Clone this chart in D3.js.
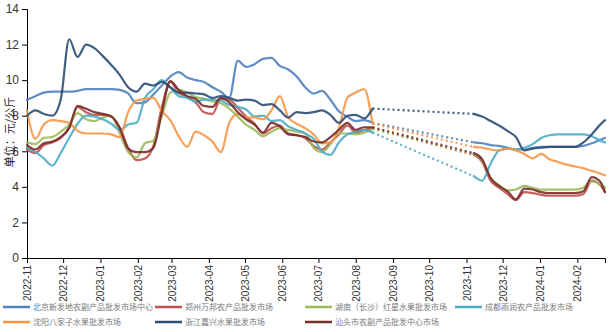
<!DOCTYPE html>
<html><head><meta charset="utf-8">
<script src="https://cdn.jsdelivr.net/npm/d3@7"></script>
<style>
body{margin:0;background:#fff;}
svg{display:block;font-family:"Liberation Sans",Arial,sans-serif;}
</style></head>
<body><svg id="chart" width="611" height="332"></svg>
<script>
// ---- data ----
const seriesNames = ["北京新发地农副产品批发市场中心","郑州万邦农产品批发市场","湖南（长沙）红星水果批发市场","成都雨润农产品批发市场","沈阳八家子水果批发市场","浙江嘉兴水果批发市场","汕头市农副产品批发中心市场"];
const seriesColors = ["#4F81BD","#C0504D","#9BBB59","#4BACC6","#F79646","#2C4D75","#772C2A"];
const yTicks = [0,2,4,6,8,10,12,14];
const startDate = new Date(2022,10,1);
const endDate = new Date(2024,1,24);
// weekly observations from 2022-11-01, last point 2024-02-24
const dates = d3.range(69).map(i => d3.timeDay.offset(startDate, 7*i)).concat([endDate]);
const N = null;
const gap = [N,N,N,N,N,N,N,N,N,N,N];
const beijing = [8.9,9.1,9.3,9.35,9.35,9.35,9.4,9.5,9.5,9.5,9.5,9.45,9.25,8.7,8.75,9.2,9.7,10.2,10.45,10.15,10.0,9.9,9.6,9.35,9.0,11.1,10.75,10.9,11.2,11.25,10.8,10.6,10.2,9.6,9.25,9.4,8.9,8.25,7.95,7.7,7.75,7.6]
  .concat(gap,[6.5,6.45,6.35,6.3,6.2,6.1,6.1,6.2,6.25,6.25,6.25,6.25,6.25,6.3,6.45,6.65,6.75]);
const zhengzhou = [6.1,5.9,6.35,6.5,6.75,7.35,8.5,8.2,8.05,8.05,7.95,7.35,6.2,5.5,5.6,6.3,8.5,9.9,9.3,9.05,8.75,8.2,8.1,8.95,8.9,8.45,7.95,7.55,7.0,7.3,7.45,7.0,6.9,6.75,6.3,6.1,6.5,6.95,7.45,7.05,7.2,7.3]
  .concat(gap,[5.8,5.4,4.35,3.95,3.6,3.25,3.7,3.65,3.55,3.5,3.5,3.5,3.5,3.6,4.35,4.1,3.7]);
const hunan = [6.5,6.4,6.75,6.8,7.1,7.5,8.15,7.8,7.7,7.9,8.0,7.0,5.95,5.65,6.45,6.6,8.0,9.3,9.45,9.3,9.05,8.95,8.8,8.7,8.4,7.95,7.5,7.2,6.85,7.1,7.3,7.2,7.1,7.0,6.2,5.95,6.4,7.0,7.0,6.95,7.05,7.25]
  .concat(gap,[5.85,5.5,4.5,4.1,3.8,3.85,4.05,3.95,3.85,3.85,3.85,3.85,3.85,3.95,4.3,4.15,3.95]);
const chengdu = [6.2,5.95,5.6,5.2,5.9,6.75,7.55,8.0,7.95,7.8,7.55,7.2,7.5,7.6,9.0,9.5,10.0,9.6,9.1,9.0,8.8,8.9,8.9,8.85,8.6,8.5,8.35,7.95,8.0,7.7,7.75,7.4,7.2,7.0,6.7,6.0,5.8,6.5,6.95,7.1,7.2,7.05]
  .concat(gap,[4.6,4.35,5.3,6.05,6.15,6.1,6.2,6.4,6.75,6.9,6.95,6.95,6.95,6.95,6.85,6.6,6.5]);
const shenyang = [8.3,6.7,7.5,7.75,7.7,7.6,7.15,7.0,7.0,7.0,6.95,6.8,8.2,8.85,8.95,9.0,8.25,7.75,6.85,6.25,7.1,6.9,6.55,5.95,7.6,8.1,7.9,7.9,7.8,8.3,9.1,7.9,7.55,7.3,6.95,6.45,6.5,7.3,9.0,9.3,9.5,7.55]
  .concat(gap,[6.25,6.2,6.1,6.05,6.15,6.05,5.85,5.6,5.85,5.55,5.4,5.25,5.15,5.05,4.9,4.75,4.65]);
const zhejiang = [8.0,8.3,8.1,8.0,8.9,12.3,11.3,12.0,11.8,11.35,10.85,10.3,9.6,9.35,9.8,9.7,9.9,9.6,9.3,9.3,9.25,9.2,9.0,9.1,9.0,8.85,8.9,8.85,8.6,8.65,8.3,7.9,8.2,8.15,8.2,8.3,8.05,7.6,8.0,8.05,7.85,8.4]
  .concat(gap,[8.1,7.95,7.7,7.45,7.15,6.8,6.05,6.15,6.2,6.25,6.25,6.25,6.25,6.5,6.95,7.5,7.75]);
const shantou = [6.35,6.1,6.45,6.55,6.8,7.3,8.55,8.4,8.2,8.1,7.95,7.3,6.15,5.95,5.95,6.2,8.2,9.95,9.45,9.1,8.95,8.55,8.5,9.0,8.75,8.2,7.8,7.5,7.05,7.6,7.4,6.95,6.9,6.8,6.55,6.5,6.8,7.2,7.6,7.2,7.35,7.35]
  .concat(gap,[5.9,5.55,4.5,4.05,3.75,3.3,3.9,3.85,3.7,3.65,3.65,3.65,3.65,3.75,4.55,4.3,3.7]);
const seriesValues = [beijing,zhengzhou,hunan,chengdu,shenyang,zhejiang,shantou];

// ---- layout ----
const svg = d3.select("#chart");
const mLeft = 27, mRight = 605, mTop = 9, mBottom = 258;
const x = d3.scaleTime().domain([startDate,endDate]).range([mLeft,mRight]);
const y = d3.scaleLinear().domain([0,14]).range([mBottom,mTop]);

// axes
const yAxis = svg.append("g").attr("transform",`translate(${mLeft},0)`)
  .call(d3.axisLeft(y).tickValues(yTicks).tickSizeOuter(0).tickSize(5).tickPadding(3));
yAxis.selectAll("text").attr("font-size",12).attr("fill","#333");
const xAxis = svg.append("g").attr("transform",`translate(0,${mBottom})`)
  .call(d3.axisBottom(x).ticks(d3.timeMonth.every(1)).tickFormat(d3.timeFormat("%Y-%m")).tickSizeOuter(0).tickSize(5));
xAxis.selectAll("text").attr("font-size",10).attr("fill","#333")
  .attr("transform","rotate(-90)").attr("text-anchor","end").attr("dy","0.35em").attr("y",0).attr("x",-7);
svg.selectAll(".domain, .tick line").attr("stroke","#000");

// y title
svg.append("text").attr("transform","translate(14,132) rotate(-90)")
  .attr("text-anchor","middle").attr("font-size",11).attr("fill","#222")
  .attr("font-family","'Noto Sans CJK SC',sans-serif").text("单位：元/公斤");

// lines
const line = d3.line().defined(d => d.v != null).x(d => x(d.date)).y(d => y(d.v)).curve(d3.curveMonotoneX);
seriesValues.forEach((vals,si) => {
  const pts = vals.map((v,i) => ({date: dates[i], v}));
  const g = svg.append("g");
  g.append("path").datum(pts).attr("d",line).attr("fill","none")
    .attr("stroke",seriesColors[si]).attr("stroke-width",2.2).attr("stroke-opacity",0.9)
    .attr("stroke-linejoin","round").attr("stroke-linecap","round");
  // dotted bridge across gaps
  for (let i = 1; i < pts.length; i++) {
    if (pts[i].v == null && pts[i-1].v != null) {
      let j = i; while (j < pts.length && pts[j].v == null) j++;
      if (j < pts.length) {
        g.append("path").datum([pts[i-1],pts[j]])
          .attr("d", d3.line().x(d=>x(d.date)).y(d=>y(d.v)))
          .attr("fill","none").attr("stroke",seriesColors[si]).attr("stroke-width",2.2)
          .attr("stroke-dasharray","2,3").attr("stroke-opacity",0.9);
      }
    }
  }
});

// legend
const legCols = [3,155,305,455];
const legRows = [307,322];
seriesNames.forEach((name,i) => {
  const cx = legCols[i % 4], cy = legRows[Math.floor(i/4)];
  const g = svg.append("g").attr("transform",`translate(${cx},${cy})`);
  g.append("line").attr("x1",0).attr("x2",27).attr("y1",0).attr("y2",0)
    .attr("stroke",seriesColors[i]).attr("stroke-width",2.5);
  g.append("text").attr("x",30).attr("y",0).attr("dy","0.35em").attr("font-size",8)
    .attr("fill","#777").attr("font-family","'Noto Sans CJK SC',sans-serif").text(name);
});
</script></body></html>
